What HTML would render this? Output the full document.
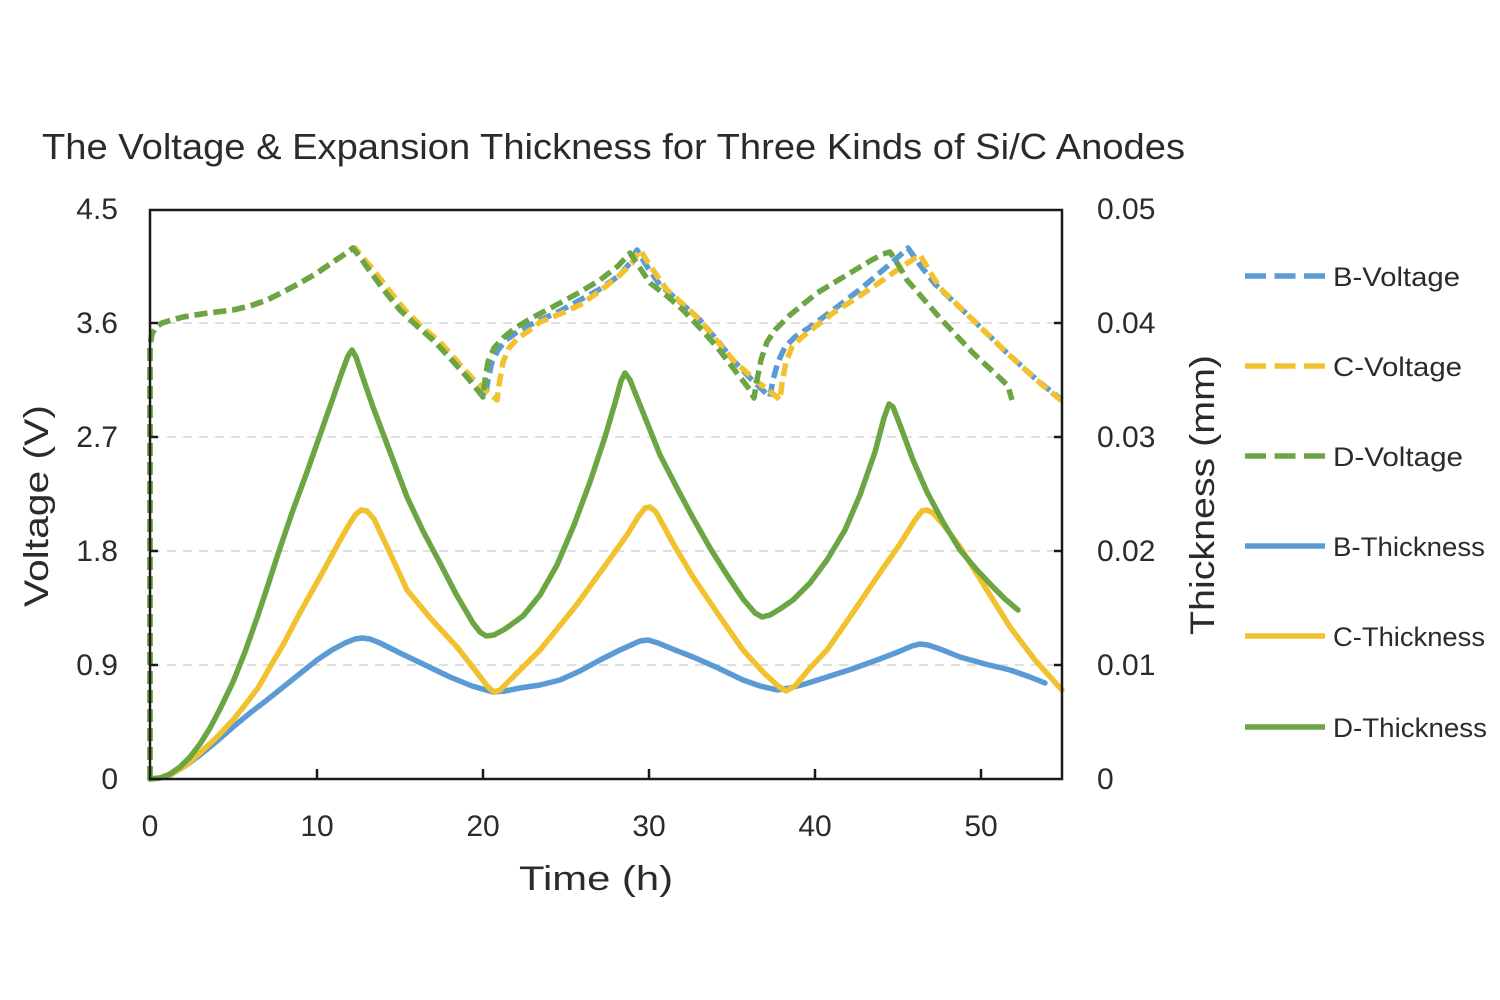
<!DOCTYPE html>
<html>
<head>
<meta charset="utf-8">
<style>
  html,body{margin:0;padding:0;background:#fff;}
  svg{display:block;}
  text{font-family:"Liberation Sans","DejaVu Sans",sans-serif;fill:#2b2b2b;}
</style>
</head>
<body>
<svg width="1500" height="1000" viewBox="0 0 1500 1000" xmlns="http://www.w3.org/2000/svg">
  <rect width="1500" height="1000" fill="#fff"/>

  <!-- Title -->
  <text x="42" y="159" font-size="36" textLength="1143" lengthAdjust="spacingAndGlyphs">The Voltage &amp; Expansion Thickness for Three Kinds of Si/C Anodes</text>

  <!-- Gridlines -->
  <g stroke="#d6d6d6" stroke-width="1.6" stroke-dasharray="9 7" fill="none">
    <line x1="151" y1="323" x2="1061" y2="323"/>
    <line x1="151" y1="437" x2="1061" y2="437"/>
    <line x1="151" y1="551" x2="1061" y2="551"/>
    <line x1="151" y1="665" x2="1061" y2="665"/>
  </g>

  <!-- Series: voltages (dashed) -->
  <g fill="none" stroke-width="5.5" stroke-dasharray="13 6" stroke-linejoin="round" stroke-linecap="butt">
    <polyline stroke="#5b9bd5" points="150,779 150,345 152,334 156,327 162,323 172,320 183,317 208,313 233,310 250,306 267,300 283,292 300,283 317,273 333,262 345,254 353,248 360,257 367,267 383,289 400,310 417,326 433,340 450,358 467,377 485,397 488,380 492,362 498,350 506,340 520,330 540,320 560,311 580,300 600,289 620,275 630,263 637,250 648,268 660,285 680,302 700,320 717,340 733,360 750,378 770,397 773,380 778,362 785,347 795,337 810,327 833,310 858,291 883,270 897,258 908,248 920,265 935,284 970,317 1005,351 1038,381 1062,400"/>
    <polyline stroke="#f2c12e" points="150,779 150,345 152,334 156,327 162,323 172,320 183,317 208,313 233,310 250,306 267,300 283,292 300,283 317,273 333,262 345,254 355,248 362,257 372,268 388,289 405,310 422,327 440,342 456,360 472,378 497,400 499,385 503,362 509,348 518,338 530,330 540,322 560,314 580,305 600,291 620,275 632,263 640,250 653,270 667,290 684,305 700,320 717,341 733,360 755,380 777,397 780,400 782,383 786,362 792,347 802,337 815,327 833,313 858,297 883,280 903,266 920,255 930,272 940,288 973,320 1007,353 1040,383 1062,401"/>
    <polyline stroke="#6ca644" points="150,779 150,345 152,334 156,327 162,323 172,320 183,317 208,313 233,310 250,306 267,300 283,292 300,283 317,273 333,262 345,254 353,248 360,257 367,267 383,289 400,310 417,326 433,340 450,358 467,377 483,397 485,380 488,362 494,348 503,338 515,328 530,319 560,303 580,292 600,280 618,266 630,253 640,268 650,283 667,296 683,310 700,328 717,347 733,368 750,390 754,398 757,380 761,360 767,342 775,330 790,315 817,293 850,273 870,261 883,254 890,252 899,266 907,280 940,318 973,353 1000,378 1008,386 1012,400"/>
  </g>

  <!-- Series: thickness (solid) -->
  <g fill="none" stroke-width="5.5" stroke-linejoin="round" stroke-linecap="round">
    <polyline stroke="#5b9bd5" points="150,779 160,778 170,775 185,766 200,755 217,741 233,727 250,713 267,700 292,680 317,660 332,650 345,643 355,639 362,638 370,639 380,643 400,653 425,665 450,677 472,686 493,692 505,691 520,688 540,685 560,680 580,671 600,660 620,650 640,641 648,640 658,643 675,650 693,657 718,668 743,680 760,686 777,690 790,688 805,684 827,677 852,669 877,660 898,652 912,646 920,644 928,645 940,649 960,657 985,664 1010,670 1030,677 1045,683"/>
    <polyline stroke="#f2c12e" points="150,779 160,778 170,775 185,766 200,753 217,737 233,720 245,705 258,688 270,667 283,645 295,622 307,600 320,577 332,555 343,535 350,523 356,514 361,510 367,511 374,519 390,553 407,590 432,620 457,647 475,670 488,687 494,692 500,690 515,675 540,650 575,607 607,563 627,535 638,517 645,508 650,507 656,512 674,545 693,577 718,614 743,650 763,672 778,686 786,691 795,686 810,668 827,650 852,614 877,577 900,544 915,520 922,511 927,510 933,513 945,527 960,547 985,587 1010,627 1035,660 1062,690"/>
    <polyline stroke="#6ca644" points="150,779 160,778 170,774 180,767 190,757 200,744 210,728 220,709 233,682 245,652 257,618 267,588 280,548 293,510 307,472 320,435 333,398 342,372 348,356 352,350 356,357 362,375 373,407 390,452 407,497 423,531 440,563 456,594 473,623 480,632 486,636 494,635 505,629 523,616 540,595 557,565 574,525 590,482 605,437 615,403 621,381 625,373 630,380 640,405 660,455 677,488 693,518 710,548 727,575 743,599 755,613 762,617 770,615 780,609 793,600 810,583 827,560 845,530 860,495 875,452 884,418 889,404 893,407 900,425 913,460 927,492 943,522 960,550 977,570 993,587 1005,599 1018,610"/>
  </g>

  <!-- Plot frame -->
  <rect x="150" y="210" width="912" height="569" fill="none" stroke="#1a1a1a" stroke-width="2.5"/>

  <!-- Ticks (inward) -->
  <g stroke="#1a1a1a" stroke-width="2.5">
    <line x1="150" y1="323" x2="158" y2="323"/>
    <line x1="150" y1="437" x2="158" y2="437"/>
    <line x1="150" y1="551" x2="158" y2="551"/>
    <line x1="150" y1="665" x2="158" y2="665"/>
    <line x1="1054" y1="323" x2="1062" y2="323"/>
    <line x1="1054" y1="437" x2="1062" y2="437"/>
    <line x1="1054" y1="551" x2="1062" y2="551"/>
    <line x1="1054" y1="665" x2="1062" y2="665"/>
    <line x1="317" y1="769" x2="317" y2="779"/>
    <line x1="483" y1="769" x2="483" y2="779"/>
    <line x1="649" y1="769" x2="649" y2="779"/>
    <line x1="815" y1="769" x2="815" y2="779"/>
    <line x1="981" y1="769" x2="981" y2="779"/>
  </g>

  <!-- Left axis labels -->
  <g font-size="30" text-anchor="end">
    <text x="118" y="219">4.5</text>
    <text x="118" y="333">3.6</text>
    <text x="118" y="447">2.7</text>
    <text x="118" y="561">1.8</text>
    <text x="118" y="675">0.9</text>
    <text x="118" y="789">0</text>
  </g>

  <!-- Right axis labels -->
  <g font-size="30" text-anchor="start">
    <text x="1097" y="219">0.05</text>
    <text x="1097" y="333">0.04</text>
    <text x="1097" y="447">0.03</text>
    <text x="1097" y="561">0.02</text>
    <text x="1097" y="675">0.01</text>
    <text x="1097" y="789">0</text>
  </g>

  <!-- X axis labels -->
  <g font-size="30" text-anchor="middle">
    <text x="150" y="836">0</text>
    <text x="317" y="836">10</text>
    <text x="483" y="836">20</text>
    <text x="649" y="836">30</text>
    <text x="815" y="836">40</text>
    <text x="981" y="836">50</text>
  </g>

  <!-- Axis titles -->
  <text x="519" y="890" font-size="34" textLength="154" lengthAdjust="spacingAndGlyphs">Time  (h)</text>
  <text transform="translate(48,607) rotate(-90)" font-size="34" textLength="202" lengthAdjust="spacingAndGlyphs">Voltage  (V)</text>
  <text transform="translate(1214,635) rotate(-90)" font-size="34" textLength="280" lengthAdjust="spacingAndGlyphs">Thickness  (mm)</text>

  <!-- Legend -->
  <g fill="none" stroke-width="5.5">
    <line x1="1245" y1="276" x2="1325" y2="276" stroke="#5b9bd5" stroke-dasharray="21 8.5"/>
    <line x1="1245" y1="366" x2="1325" y2="366" stroke="#f2c12e" stroke-dasharray="21 8.5"/>
    <line x1="1245" y1="456" x2="1325" y2="456" stroke="#6ca644" stroke-dasharray="21 8.5"/>
    <line x1="1245" y1="546" x2="1325" y2="546" stroke="#5b9bd5"/>
    <line x1="1245" y1="636" x2="1325" y2="636" stroke="#f2c12e"/>
    <line x1="1245" y1="727" x2="1325" y2="727" stroke="#6ca644"/>
  </g>
  <g font-size="27">
    <text x="1333" y="286" textLength="127" lengthAdjust="spacingAndGlyphs">B-Voltage</text>
    <text x="1333" y="376" textLength="129" lengthAdjust="spacingAndGlyphs">C-Voltage</text>
    <text x="1333" y="466" textLength="130" lengthAdjust="spacingAndGlyphs">D-Voltage</text>
    <text x="1333" y="556" textLength="152" lengthAdjust="spacingAndGlyphs">B-Thickness</text>
    <text x="1333" y="646" textLength="152" lengthAdjust="spacingAndGlyphs">C-Thickness</text>
    <text x="1333" y="737" textLength="154" lengthAdjust="spacingAndGlyphs">D-Thickness</text>
  </g>
</svg>
</body>
</html>
